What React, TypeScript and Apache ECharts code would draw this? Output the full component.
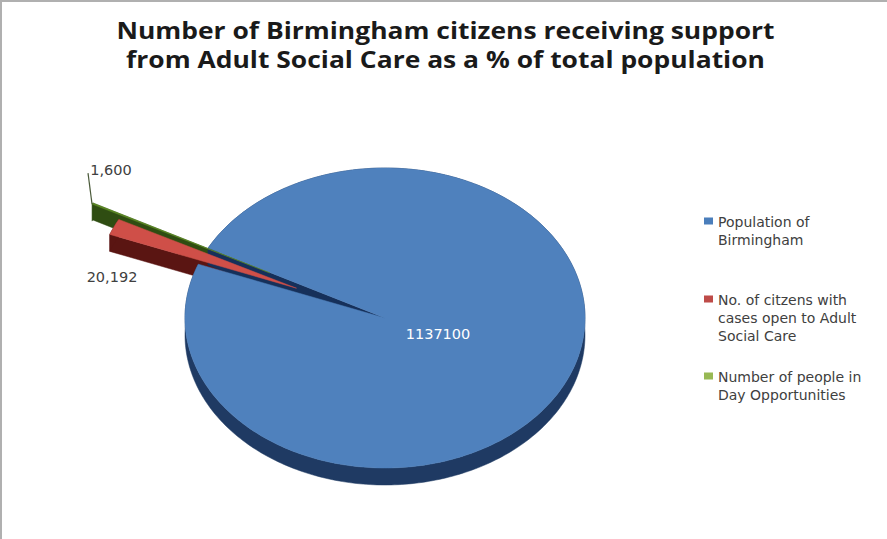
import React, { useEffect, useRef } from "react";
import * as echarts from "echarts";

// Population figures shown on the chart
const categories = [
  "Population of\nBirmingham",
  "No. of citzens with\ncases open to Adult\nSocial Care",
  "Number of people in\nDay Opportunities",
];
const values = [1137100, 20192, 1600];
const valueLabels = ["1137100", "20,192", "1,600"];

const TITLE = "Number of Birmingham citizens receiving support\nfrom Adult Social Care as a % of total population";

const topColors = ["#4F81BD", "#CF4F48", "#5E8A26"];
const wallColors = ["#1F3A63", "#5A1512", "#2F4D12"];
const legendColors = ["#4A7EBB", "#BE4B48", "#98B954"];

// Tilted-disc geometry, in pixels
const CX = 385;
const CY = 318;
const RX = 200;
const SQUASH = 0.75;
const DEPTH = 17;
const START_DEG = 152.2; // in-plane angle where the first slice begins
const EXPLODE = [0, 97, 130];

const total = values.reduce((a, b) => a + b, 0);
const D2R = Math.PI / 180;

type P = [number, number];

// Slices run clockwise on screen, so the in-plane angle decreases.
function sliceRange(i: number): [number, number] {
  const before = values.slice(0, i).reduce((a, b) => a + b, 0);
  return [START_DEG - (before / total) * 360, START_DEG - ((before + values[i]) / total) * 360];
}

function project(deg: number, r: number, ox = 0, oy = 0, drop = 0): P {
  return [CX + ox + r * Math.cos(deg * D2R), CY + oy - SQUASH * r * Math.sin(deg * D2R) + drop];
}

function arcPoints(a0: number, a1: number, ox: number, oy: number, drop: number): P[] {
  const steps = Math.max(2, Math.ceil(Math.abs(a1 - a0) / 1));
  const pts: P[] = [];
  for (let k = 0; k <= steps; k++) pts.push(project(a0 + ((a1 - a0) * k) / steps, RX, ox, oy, drop));
  return pts;
}

function sliceShapes(i: number) {
  const [a0, a1] = sliceRange(i);
  const mid = (a0 + a1) / 2;
  const ox = EXPLODE[i] * Math.cos(mid * D2R);
  const oy = -SQUASH * EXPLODE[i] * Math.sin(mid * D2R);
  const tip = project(0, 0, ox, oy, 0);
  const tipLow = project(0, 0, ox, oy, DEPTH);
  const rim = arcPoints(a0, a1, ox, oy, 0);
  const rimLow = arcPoints(a0, a1, ox, oy, DEPTH);
  return { a0, a1, ox, oy, tip, tipLow, rim, rimLow };
}

function renderSlice(i: number) {
  return () => {
    const s = sliceShapes(i);
    const children: any[] = [];
    const poly = (points: P[], fill: string, z2: number) =>
      children.push({
        type: "polygon",
        z2,
        shape: { points },
        style: { fill, stroke: fill, lineWidth: 0.5 },
      });
    const label = (text: string, x: number, y: number, fill: string) =>
      children.push({
        type: "text",
        z2: 40,
        x,
        y,
        style: { text, fill, font: '14.5px "DejaVu Sans"', textAlign: "center", textVerticalAlign: "middle" },
      });

    if (i === 0) {
      // Outer curved wall, then the cut face seen through the notch, then the disc top.
      const wall = s.rim.concat(s.rimLow.slice().reverse());
      poly(wall, wallColors[0], 10);
      const r0 = project(s.a0, RX);
      const r0Low = project(s.a0, RX, 0, 0, DEPTH);
      poly([s.tip, r0, r0Low, s.tipLow], "#16305A", 11);
      poly([s.tip, ...s.rim], topColors[0], 20);
      label(valueLabels[0], 438, 334, "#FFFFFF");
    } else {
      // Lower cut face and outer wall of an exploded slice, then its top.
      const base = 4 - i;
      const lower = s.rim[s.rim.length - 1];
      const lowerDrop = s.rimLow[s.rimLow.length - 1];
      const upper = s.rim[0];
      const upperDrop = s.rimLow[0];
      poly([s.tip, i === 1 ? upper : lower, i === 1 ? upperDrop : lowerDrop, s.tipLow], wallColors[i], base);
      poly(s.rim.concat(s.rimLow.slice().reverse()), wallColors[i], base);
      poly([s.tip, ...s.rim], topColors[i], i === 1 ? 31 : 30);
      if (i === 1) {
        label(valueLabels[1], 112, 277, "#404040");
      } else {
        const outer = s.rim[0];
        children.push({
          type: "polyline",
          z2: 35,
          shape: { points: [outer, [outer[0] - 4, outer[1] - 31]] },
          style: { stroke: "#4A5A3A", lineWidth: 1.2, fill: "none" },
        });
        label(valueLabels[2], 111, 170, "#404040");
      }
    }
    return { type: "group", children };
  };
}

// Icons carry an invisible tail so the square sits beside the first text line.
const iconFor = (h: number) => `path://M0 4.5H9V11.5H0Z M0 0V${h}H0Z`;

const legendLayout = [
  { top: 208, height: 36 },
  { top: 286, height: 54 },
  { top: 363, height: 36 },
];

export default function App() {
  const ref = useRef<HTMLDivElement>(null);
  useEffect(() => {
    document.body.style.margin = "0";
    const chart = echarts.init(ref.current!, undefined, { renderer: "svg" });
    chart.setOption({
      animation: false,
      backgroundColor: "#FFFFFF",
      legend: categories.map((name, i) => ({
        data: [name],
        left: 699,
        top: legendLayout[i].top,
        orient: "vertical",
        itemWidth: 9,
        itemHeight: legendLayout[i].height,
        itemGap: 0,
        icon: iconFor(legendLayout[i].height),
        itemStyle: { color: legendColors[i] },
        symbolKeepAspect: false,
        selectedMode: false,
        textStyle: {
          fontFamily: "DejaVu Sans",
          fontSize: 14,
          lineHeight: 18,
          color: "#404040",
        },
      })),
      series: categories.map((name, i) => ({
        type: "custom",
        name,
        coordinateSystem: "none",
        data: [values[i]],
        itemStyle: { color: topColors[i] },
        renderItem: renderSlice(i),
        silent: true,
      })),
      graphic: [
        { type: "rect", shape: { x: 0, y: 0, width: 887, height: 2 }, style: { fill: "#B0B0B0" } },
        { type: "rect", shape: { x: 0, y: 0, width: 2, height: 539 }, style: { fill: "#B0B0B0" } },
        {
          type: "text",
          x: 445.5,
          y: 14,
          scaleX: 1.102,
          style: {
            text: TITLE,
            textAlign: "center",
            fill: "#1A1A1A",
            font: '700 24px "Open Sans"',
            lineHeight: 30,
          },
        },
      ],
    });
    return () => chart.dispose();
  }, []);
  return <div ref={ref} style={{ width: 887, height: 539 }} />;
}
